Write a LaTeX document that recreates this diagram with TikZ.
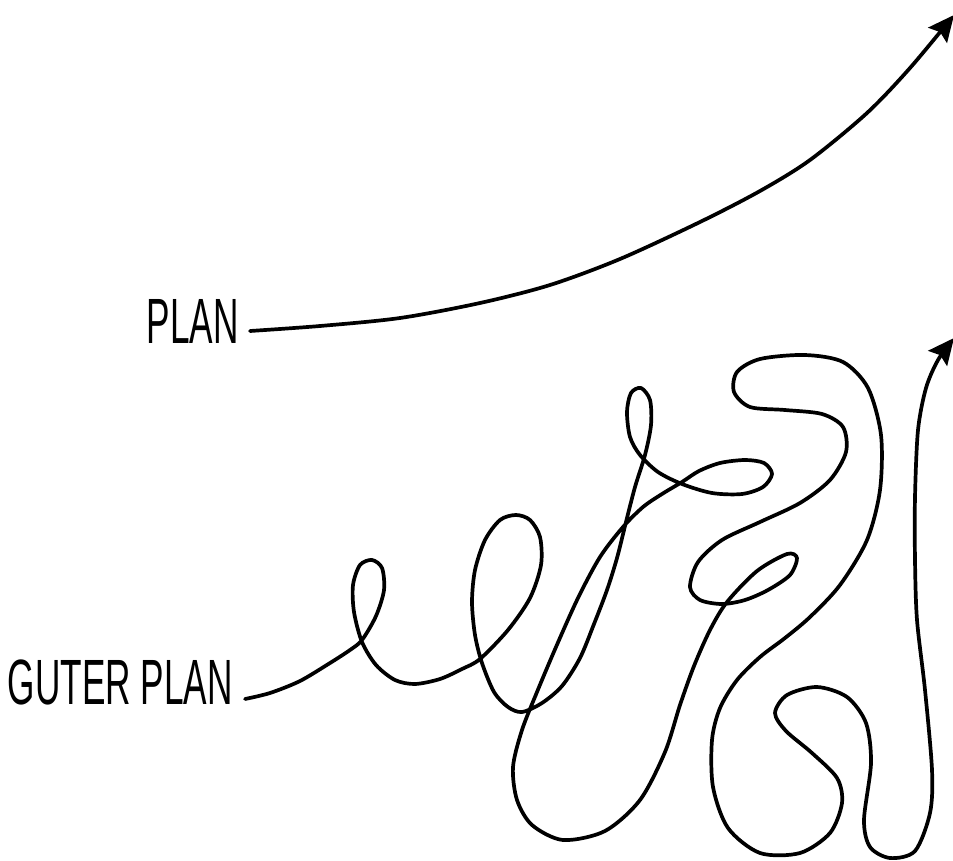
\documentclass[tikz,border=0pt]{standalone}
\usepackage{fontspec}
\newfontfamily\handfont[FakeStretch=0.55]{Liberation Sans}
\usetikzlibrary{arrows.meta}
\begin{document}
\begin{tikzpicture}[x=1pt,y=-1pt,
  wire/.style={line width=3.7pt, line cap=round, line join=round},
  tipped/.style={-{Stealth[length=26pt,width=24pt,inset=4pt]}},
  lbl/.style={font=\handfont\fontsize{64}{64}\selectfont, inner sep=0pt, anchor=base east}]
\fill[white] (0,0) rectangle (953,861);
\useasboundingbox (0,0) rectangle (953,861);

\node[lbl] (plan) at (239,343) {PLAN};
\node[lbl] (guter) at (233,704) {GUTER PLAN};

\coordinate (planstart) at (250,331);
\coordinate (guterstart) at (245,699);
\coordinate (tipA) at (954,15);
\coordinate (tipB) at (954,338);

% straight plan
\draw[wire,tipped] plot[smooth] coordinates {(planstart) (320,326) (400,318) (480,303) (550,285) (620,259) (700,222) (760,191) (810,160) (867,113) (910,68) (tipA)};

% better plan
\draw[wire,tipped] plot[smooth] coordinates {(guterstart) (270,693) (300,681) (330,663) (350,650) (362,640) (376,616) (384,590) (382,568) (372,560) (360,565) (353,585) (354,612) (362,642) (376,665) (395,680) (415,684) (440,679) (462,669) (480,659) (508,630) (530,598) (541,565) (540,537) (530,520) (516,515) (500,520) (485,540) (475,570) (472,602) (475,635) (482,663) (494,692) (508,707) (522,712) (542,703) (562,686) (580,658) (594,624) (607,590) (617,558) (626,522) (635,487) (645,455) (651,425) (650,400) (641,388) (631,393) (627,412) (630,437) (640,455) (658,472) (682,484) (712,493) (742,494) (763,487) (772,474) (764,463) (745,460) (720,463) (699,471) (682,482) (662,494) (643,507) (623,527) (600,557) (578,598) (556,647) (537,692) (522,730) (513,767) (517,800) (532,825) (563,840) (605,831) (640,800) (665,752) (680,705) (694,666) (710,630) (727,602) (757,571) (787,554) (797,558) (790,575) (768,590) (745,600) (722,604) (700,600) (690,587) (698,562) (722,540) (760,522) (800,503) (830,480) (846,452) (843,427) (822,414) (785,410) (750,407) (734,392) (737,372) (760,359) (805,355) (843,362) (868,388) (881,435) (880,490) (867,540) (840,585) (810,617) (785,638) (760,657) (737,680) (720,708) (712,740) (713,787) (728,828) (760,853) (800,853) (830,833) (842,803) (837,778) (812,753) (786,731) (775,713) (787,695) (817,687) (847,697) (866,723) (871,763) (864,820) (870,847) (890,858) (915,851) (930,813) (932,770) (925,690) (917,620) (915,560) (915,497) (918,430) (926,388) (938,360) (tipB)};
\end{tikzpicture}
\end{document}
